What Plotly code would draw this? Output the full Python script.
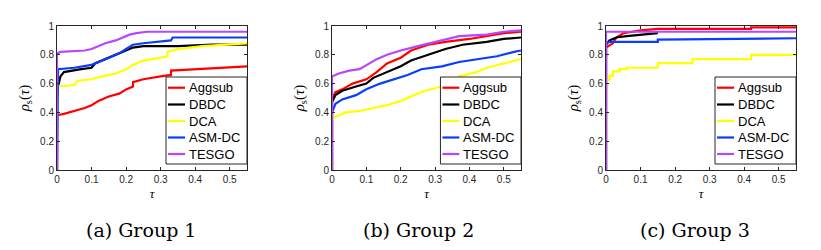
import plotly.graph_objects as go

names = ["Aggsub", "DBDC", "DCA", "ASM-DC", "TESGO"]
colors = ["#FF0000", "#000000", "#FFFF00", "#0A3CFF", "#B845FF"]
captions = ["(a) Group 1", "(b) Group 2", "(c) Group 3"]

# ---- Group 1 ----
g1_agg_x = [0, 0, 0.02, 0.05, 0.08, 0.10, 0.12, 0.15, 0.18, 0.20, 0.22, 0.22, 0.25, 0.30, 0.32, 0.33, 0.33, 0.40, 0.45, 0.55]
g1_agg_y = [0.0, 0.38, 0.39, 0.41, 0.43, 0.45, 0.48, 0.51, 0.53, 0.56, 0.58, 0.61, 0.63, 0.65, 0.66, 0.66, 0.69, 0.70, 0.71, 0.72]
g1_dbdc_x = [0, 0, 0.003, 0.006, 0.01, 0.02, 0.04, 0.07, 0.10, 0.11, 0.14, 0.17, 0.20, 0.22, 0.25, 0.35, 0.45, 0.55]
g1_dbdc_y = [0.0, 0.50, 0.58, 0.62, 0.65, 0.68, 0.69, 0.70, 0.71, 0.74, 0.77, 0.80, 0.83, 0.85, 0.86, 0.86, 0.87, 0.87]
g1_dca_x = [0, 0, 0.05, 0.06, 0.10, 0.13, 0.17, 0.20, 0.22, 0.25, 0.30, 0.32, 0.32, 0.35, 0.42, 0.50, 0.55]
g1_dca_y = [0.0, 0.58, 0.59, 0.62, 0.63, 0.65, 0.67, 0.70, 0.73, 0.76, 0.78, 0.79, 0.82, 0.84, 0.86, 0.87, 0.88]
g1_asm_x = [0, 0.003, 0.05, 0.08, 0.10, 0.12, 0.15, 0.18, 0.20, 0.22, 0.25, 0.30, 0.33, 0.335, 0.55]
g1_asm_y = [0.0, 0.70, 0.71, 0.72, 0.73, 0.75, 0.78, 0.81, 0.84, 0.87, 0.88, 0.89, 0.90, 0.92, 0.92]
g1_tes_x = [0, 0, 0.01, 0.05, 0.08, 0.10, 0.12, 0.14, 0.17, 0.19, 0.21, 0.23, 0.26, 0.55]
g1_tes_y = [0.0, 0.81, 0.82, 0.825, 0.83, 0.84, 0.86, 0.88, 0.90, 0.92, 0.94, 0.95, 0.96, 0.96]

# ---- Group 2 ----
g2_agg_x = [0, 0, 0.01, 0.03, 0.06, 0.10, 0.13, 0.16, 0.20, 0.23, 0.28, 0.33, 0.40, 0.45, 0.50, 0.55]
g2_agg_y = [0.0, 0.50, 0.54, 0.56, 0.60, 0.63, 0.68, 0.74, 0.78, 0.83, 0.87, 0.89, 0.91, 0.93, 0.95, 0.96]
g2_dbdc_x = [0, 0, 0.01, 0.03, 0.07, 0.10, 0.12, 0.16, 0.20, 0.23, 0.28, 0.33, 0.38, 0.45, 0.50, 0.55]
g2_dbdc_y = [0.0, 0.47, 0.52, 0.55, 0.58, 0.60, 0.64, 0.68, 0.72, 0.76, 0.80, 0.84, 0.87, 0.89, 0.91, 0.92]
g2_dca_x = [0, 0, 0.01, 0.04, 0.08, 0.12, 0.16, 0.20, 0.23, 0.27, 0.32, 0.35, 0.37, 0.42, 0.45, 0.50, 0.55]
g2_dca_y = [0.0, 0.35, 0.37, 0.40, 0.41, 0.43, 0.45, 0.48, 0.51, 0.55, 0.58, 0.60, 0.65, 0.68, 0.71, 0.74, 0.77]
g2_asm_x = [0, 0, 0.01, 0.03, 0.07, 0.10, 0.14, 0.18, 0.22, 0.26, 0.32, 0.37, 0.43, 0.48, 0.53, 0.55]
g2_asm_y = [0.0, 0.40, 0.46, 0.49, 0.52, 0.56, 0.60, 0.63, 0.66, 0.70, 0.72, 0.75, 0.77, 0.79, 0.82, 0.83]
g2_tes_x = [0, 0, 0.02, 0.05, 0.08, 0.10, 0.13, 0.16, 0.20, 0.25, 0.30, 0.33, 0.37, 0.45, 0.50, 0.55]
g2_tes_y = [0.0, 0.65, 0.67, 0.69, 0.70, 0.73, 0.77, 0.80, 0.83, 0.86, 0.89, 0.91, 0.93, 0.94, 0.96, 0.97]

# ---- Group 3 ----
g3_agg_x = [0, 0, 0.02, 0.03, 0.05, 0.07, 0.10, 0.15, 0.42, 0.42, 0.55]
g3_agg_y = [0.0, 0.85, 0.88, 0.92, 0.95, 0.96, 0.97, 0.98, 0.98, 0.99, 0.99]
g3_dbdc_x = [0, 0, 0.01, 0.03, 0.06, 0.10, 0.15]
g3_dbdc_y = [0.0, 0.87, 0.90, 0.92, 0.93, 0.94, 0.95]
g3_dca_x = [0, 0, 0.01, 0.01, 0.02, 0.02, 0.04, 0.04, 0.06, 0.06, 0.15, 0.15, 0.25, 0.25, 0.42, 0.42, 0.55]
g3_dca_y = [0.0, 0.625, 0.625, 0.655, 0.655, 0.685, 0.685, 0.70, 0.70, 0.71, 0.71, 0.742, 0.742, 0.77, 0.77, 0.80, 0.80]
g3_asm_x = [0, 0, 0.01, 0.15, 0.15, 0.50, 0.55]
g3_asm_y = [0.0, 0.88, 0.89, 0.89, 0.905, 0.91, 0.915]
g3_tes_x = [0, 0, 0.55]
g3_tes_y = [0.0, 0.96, 0.96]

groups = [
    [(g1_agg_x, g1_agg_y), (g1_dbdc_x, g1_dbdc_y), (g1_dca_x, g1_dca_y), (g1_asm_x, g1_asm_y), (g1_tes_x, g1_tes_y)],
    [(g2_agg_x, g2_agg_y), (g2_dbdc_x, g2_dbdc_y), (g2_dca_x, g2_dca_y), (g2_asm_x, g2_asm_y), (g2_tes_x, g2_tes_y)],
    [(g3_agg_x, g3_agg_y), (g3_dbdc_x, g3_dbdc_y), (g3_dca_x, g3_dca_y), (g3_asm_x, g3_asm_y), (g3_tes_x, g3_tes_y)],
]

# page body has an 8px margin: figure is drawn at offset (8, 8)
OFF = 8
W, H = 821 - OFF, 250 - OFF


def px(v):
    return (v - OFF) / W


def py(v):
    return 1 - (v - OFF) / H


xdoms = [(px(57), px(247)), (px(332), px(521)), (px(606), px(796))]
ydom = (py(170), py(26))
cap_x = [141, 418, 695]

# legend geometry in axis-domain units (plot area is 190 x 144 px)
AW, AH = 190.0, 144.0
leg_left, leg_right = 1 - 81 / AW, 1.0
leg_bottom, leg_top = 6 / AH, 93 / AH
line_x0, line_x1 = 1 - 79 / AW, 1 - 62 / AW
text_x = 1 - 60 / AW
row_y = [(170 - 87.7) / AH, (170 - 104.5) / AH, (170 - 121) / AH, (170 - 137.5) / AH, (170 - 154) / AH]

fig = go.Figure()
layout = dict(
    width=W, height=H, margin=dict(l=0, r=0, t=0, b=0, autoexpand=False),
    plot_bgcolor="white", paper_bgcolor="white",
    font=dict(family="Liberation Sans, Arial", size=10, color="#262626"),
    annotations=[], shapes=[], showlegend=False,
)

for gi, series in enumerate(groups):
    sfx = "" if gi == 0 else str(gi + 1)
    xr, yr = "x" + sfx + " domain", "y" + sfx + " domain"
    for si, (xs, ys) in enumerate(series):
        fig.add_trace(go.Scatter(
            x=xs, y=ys, mode="lines", name=names[si],
            line=dict(color=colors[si], width=2.2),
            xaxis="x" + sfx, yaxis="y" + sfx,
        ))
    layout["xaxis" + sfx] = dict(
        domain=list(xdoms[gi]), anchor="y" + sfx, range=[0, 0.55], automargin=False,
        tickvals=[0, 0.1, 0.2, 0.3, 0.4, 0.5], ticktext=["0", "0.1", "0.2", "0.3", "0.4", "0.5"],
        ticks="inside", ticklen=3, tickcolor="#262626", showgrid=False, zeroline=False,
        showline=True, linecolor="#262626", linewidth=1, mirror="ticks",
        tickfont=dict(size=10, color="#262626"),
        title=dict(text="<i>τ</i>", font=dict(family="Liberation Serif, serif", size=13, color="#000"), standoff=4),
    )
    layout["yaxis" + sfx] = dict(
        domain=list(ydom), anchor="x" + sfx, range=[0, 1], automargin=False,
        tickvals=[0, 0.2, 0.4, 0.6, 0.8, 1], ticktext=["0", "0.2", "0.4", "0.6", "0.8", "1"],
        ticks="inside", ticklen=3, tickcolor="#262626", showgrid=False, zeroline=False,
        showline=True, linecolor="#262626", linewidth=1, mirror="ticks",
        tickfont=dict(size=10, color="#262626"),
        title=dict(text="<i>ρ</i><sub>s</sub>(<i>τ</i>)", font=dict(family="Liberation Serif, serif", size=15, color="#000"), standoff=6),
    )
    # legend box
    layout["shapes"].append(dict(
        type="rect", xref=xr, yref=yr, x0=leg_left, x1=leg_right, y0=leg_bottom, y1=leg_top,
        fillcolor="white", line=dict(color="#262626", width=1), layer="above",
    ))
    for si in range(len(names)):
        layout["shapes"].append(dict(
            type="line", xref=xr, yref=yr, x0=line_x0, x1=line_x1, y0=row_y[si], y1=row_y[si],
            line=dict(color=colors[si], width=2.2), layer="above",
        ))
        layout["annotations"].append(dict(
            text=names[si], xref=xr, yref=yr, x=text_x, y=row_y[si],
            xanchor="left", yanchor="middle", showarrow=False,
            font=dict(family="Liberation Sans, Arial", size=13, color="#000"),
        ))
    layout["annotations"].append(dict(
        text=captions[gi], x=px(cap_x[gi]), y=py(230),
        xref="paper", yref="paper", showarrow=False, xanchor="center", yanchor="middle",
        font=dict(family="DejaVu Serif, serif", size=19, color="#000"),
    ))

fig.update_layout(**layout)
fig.write_html("out.html")
